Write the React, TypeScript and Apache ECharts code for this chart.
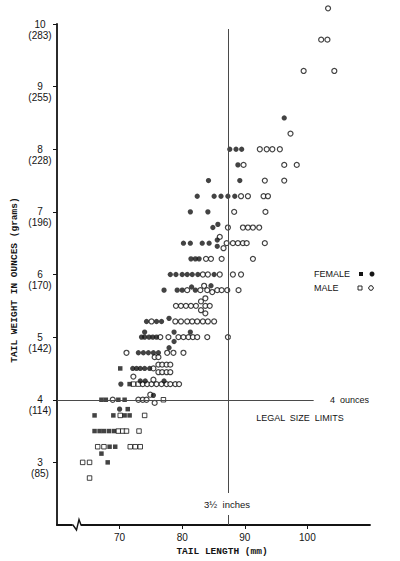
import React, { useEffect, useRef } from "react";
import * as echarts from "echarts";

// Tick values and labels
const xTickValues = [70, 80, 90, 100];
const yTickValues = [3, 4, 5, 6, 7, 8, 9, 10];
const gramLabels: Record<number, string> = { 3: "85", 4: "114", 5: "142", 6: "170", 7: "196", 8: "228", 9: "255", 10: "283" };

// Legal size limits
const legalLengthMm = 87.3; // 3 1/2 inches
const legalWeightOz = 4;

// [tail length (mm), tail weight (oz)]
const femaleSquares: number[][] = [
  [70.1, 4.5], [71.6, 4.25], [67.1, 4], [67.8, 4], [69.8, 4], [70.8, 4], [71.3, 3.85],
  [66, 3.75], [69, 3.75], [70.8, 3.75], [71.6, 3.75],
  [66, 3.5], [66.8, 3.5], [67.5, 3.5], [68.3, 3.5], [69.1, 3.5],
  [68.4, 3.25], [69.3, 3.25], [67.1, 3.14], [68.1, 3],
];

const femaleCircles: number[][] = [
  [70.2, 4.25], [73.3, 4.3], [74.1, 4.3], [77.1, 4.3], [75.4, 4.07], [70, 3.85],
  [72.1, 4.5], [72.7, 4.5], [73.3, 4.5], [74, 4.5], [74.8, 4.5],
  [73, 4.75], [73.8, 4.75], [74.6, 4.75], [75.4, 4.75], [76.2, 4.75], [77.9, 4.83],
  [73.5, 5], [74, 5], [74.7, 5], [75.3, 5], [75.9, 5], [74, 5.08], [78.7, 5.08], [78.7, 4.93], [81.3, 5.08],
  [74.3, 5.25], [75.9, 5.25], [76.7, 5.25], [77.9, 5.3],
  [77.1, 5.75], [79.2, 5.75], [80, 5.75], [81.5, 5.8], [82.1, 5.75], [84.6, 5.82],
  [78.1, 6], [79, 6], [80, 6], [80.8, 6], [81.6, 6], [82.5, 6], [85.1, 6],
  [81.4, 6.25], [82.1, 6.25], [82.7, 6.25],
  [80.2, 6.5], [81.3, 6.5], [83.2, 6.5], [84.3, 6.5], [85.6, 6.55], [85.6, 6.45],
  [84.9, 6.75], [85.7, 6.8],
  [81.3, 7], [84.1, 7],
  [82.4, 7.25], [85.1, 7.25], [86.2, 7.25], [87.3, 7.25], [88.4, 7.25],
  [84.2, 7.5], [89.2, 7.5],
  [88.9, 7.75],
  [87.6, 8], [88.6, 8], [89.5, 8],
  [96.3, 8.5],
];

const maleSquares: number[][] = [
  [77, 4], [70.1, 3.75], [74, 3.75],
  [69.8, 3.5], [70.5, 3.5], [71.1, 3.5], [73.1, 3.5],
  [66.5, 3.25], [67.5, 3.25], [71.7, 3.25], [72.5, 3.25], [73.3, 3.25],
  [64.1, 3], [65.2, 3], [65.2, 2.75], [72.2, 4.25], [73, 4.25],
];

const maleCircles: number[][] = [
  [71.1, 4.75], [75.6, 4.68], [76.2, 4.68], [77.6, 4.75], [78.6, 4.75], [80.2, 4.75],
  [75.4, 4.5], [76.2, 4.56], [76.8, 4.56], [77.5, 4.56], [78.1, 4.56], [76.2, 4.44], [76.8, 4.44], [77.5, 4.44], [78.1, 4.44],
  [73.7, 4.25], [74.4, 4.25], [75.1, 4.25], [75.9, 4.25], [76.7, 4.25], [77.5, 4.25], [78.1, 4.25], [78.9, 4.25], [79.5, 4.25], [75.4, 4.32], [72.2, 4.37],
  [68.9, 4], [73, 4], [73.7, 4], [74.3, 4], [74.9, 4.08], [75.6, 3.95],
  [76.5, 5], [77.8, 5], [79.4, 5], [80.2, 5], [81, 5], [81.7, 5], [82.4, 5], [84, 5], [87.3, 5],
  [75.1, 5.25], [78.9, 5.25], [79.8, 5.25], [80.8, 5.25], [81.6, 5.25], [82.4, 5.25], [83.3, 5.25], [84.1, 5.25], [85.1, 5.25],
  [79, 5.5], [79.8, 5.5], [80.6, 5.5], [81.4, 5.5], [82.2, 5.5], [83, 5.57], [83, 5.43], [83.7, 5.62], [83.7, 5.5], [83.7, 5.38], [84.4, 5.5],
  [80.8, 5.75], [82.9, 5.75], [83.5, 5.82], [84, 5.75], [84.8, 5.72], [85.6, 5.75], [86.3, 5.75], [87.2, 5.75], [89, 5.75],
  [83.3, 6], [84.1, 6], [86, 6], [88.1, 6], [89.4, 6],
  [83.8, 6.25], [84.6, 6.25], [86.3, 6.25], [91.3, 6.25],
  [86, 6.6], [86.6, 6.42], [87.1, 6.5], [88.1, 6.5], [88.9, 6.5], [89.7, 6.5], [90.3, 6.5], [93.2, 6.5],
  [87.3, 6.75], [89.7, 6.75], [90.5, 6.75], [91.3, 6.75], [92.3, 6.75],
  [88.3, 7], [93.3, 7],
  [89.4, 7.25], [90.5, 7.25], [93, 7.25], [93.7, 7.25],
  [93.2, 7.5], [96.3, 7.5],
  [89.8, 7.75], [96.3, 7.75], [98.3, 7.75],
  [92.4, 8], [93.5, 8], [94.4, 8], [95.6, 8],
  [97.3, 8.25],
  [99.4, 9.25], [104.3, 9.25], [102.2, 9.75], [103.2, 9.75], [103.3, 10.25],
];

const INK = "#141414";
const SANS = "Liberation Sans, Arial, sans-serif";
const MONO = "Liberation Mono, Courier New, monospace";

export default function App() {
  const ref = useRef<HTMLDivElement>(null);
  useEffect(() => {
    if (!ref.current) return;
    const chart = echarts.init(ref.current, null, { renderer: "svg" });
    const option: any = {
      animation: false,
      backgroundColor: "#ffffff",
      grid: { left: 57, right: 30, top: 24, bottom: 36 },
      xAxis: {
        type: "value",
        min: 60,
        max: 110,
        interval: 10,
        axisLine: { show: true, lineStyle: { color: INK, width: 1.8 } },
        axisTick: { show: true, length: 4, customValues: xTickValues, lineStyle: { color: INK, width: 1 } },
        axisLabel: {
          customValues: xTickValues,
          margin: 7,
          color: INK,
          fontFamily: SANS,
          fontSize: 10,
          formatter: (v: number) => (xTickValues.includes(v) ? String(v) : ""),
        },
        splitLine: { show: false },
      },
      yAxis: {
        type: "value",
        min: 2,
        max: 10,
        interval: 1,
        axisLine: { show: true, lineStyle: { color: INK, width: 1.8 } },
        axisTick: { show: true, length: 4, customValues: yTickValues, lineStyle: { color: INK, width: 1 } },
        axisLabel: {
          customValues: yTickValues,
          margin: 17,
          align: "center",
          color: INK,
          fontFamily: SANS,
          fontSize: 10,
          lineHeight: 11,
          formatter: (v: number) => (gramLabels[v] ? `\n${v}\n(${gramLabels[v]})` : ""),
        },
        splitLine: { show: false },
      },
      series: [
        {
          name: "Male (square)",
          type: "scatter",
          symbol: "rect",
          symbolSize: 4.5,
          clip: false,
          itemStyle: { color: "#ffffff", borderColor: INK, borderWidth: 1 },
          data: maleSquares,
        },
        {
          name: "Male (circle)",
          type: "scatter",
          symbol: "circle",
          symbolSize: 5,
          clip: false,
          itemStyle: { color: "#ffffff", borderColor: INK, borderWidth: 1.2 },
          data: maleCircles,
          markLine: {
            silent: true,
            symbol: "none",
            label: { show: false },
            lineStyle: { color: "#4a4a4a", width: 1, type: "solid" },
            data: [
              [{ coord: [legalLengthMm, 9.92] }, { coord: [legalLengthMm, 2] }],
              [{ coord: [60, legalWeightOz] }, { coord: [101, legalWeightOz] }],
            ],
          },
        },
        {
          name: "Female (square)",
          type: "scatter",
          symbol: "rect",
          symbolSize: 4.5,
          clip: false,
          itemStyle: { color: INK },
          data: femaleSquares,
        },
        {
          name: "Female (circle)",
          type: "scatter",
          symbol: "circle",
          symbolSize: 5.3,
          clip: false,
          itemStyle: { color: INK },
          data: femaleCircles,
        },
      ],
      graphic: [
        { type: "rect", z: 100, shape: { x: 72, y: 522, width: 9, height: 6 }, style: { fill: "#ffffff" } },
        {
          type: "polyline",
          z: 101,
          shape: { points: [[71, 525], [73, 525], [76.5, 530], [79, 519.5], [81, 525], [83, 525]] },
          style: { stroke: INK, lineWidth: 1.4, fill: "none" },
        },
        {
          type: "text",
          z: 100,
          x: 14,
          y: 280,
          rotation: Math.PI / 2,
          style: { text: "TAIL WEIGHT IN OUNCES (grams)", fill: INK, font: `bold 9.5px ${MONO}`, align: "center", verticalAlign: "middle" },
        },
        {
          type: "text",
          z: 100,
          x: 222,
          y: 551,
          style: { text: "TAIL LENGTH (mm)", fill: INK, font: `bold 9.5px ${MONO}`, align: "center", verticalAlign: "middle" },
        },
        {
          type: "text",
          z: 100,
          x: 227,
          y: 504,
          style: {
            text: "3½  inches",
            fill: INK,
            font: `9.5px ${SANS}`,
            align: "center",
            verticalAlign: "middle",
            backgroundColor: "#ffffff",
            padding: [6, 2],
          },
        },
        {
          type: "text",
          z: 100,
          x: 330,
          y: 400,
          style: { text: "4  ounces", fill: INK, font: `9px ${SANS}`, align: "left", verticalAlign: "middle" },
        },
        {
          type: "text",
          z: 100,
          x: 300,
          y: 418,
          style: { text: "LEGAL  SIZE  LIMITS", fill: INK, font: `9px ${SANS}`, align: "center", verticalAlign: "middle" },
        },
        {
          type: "text",
          z: 100,
          x: 314,
          y: 274,
          style: { text: "FEMALE", fill: INK, font: `9px ${SANS}`, align: "left", verticalAlign: "middle" },
        },
        { type: "rect", z: 100, shape: { x: 359, y: 272, width: 4, height: 4 }, style: { fill: INK } },
        { type: "circle", z: 100, shape: { cx: 372, cy: 274, r: 2.5 }, style: { fill: INK } },
        {
          type: "text",
          z: 100,
          x: 314,
          y: 288,
          style: { text: "MALE", fill: INK, font: `9px ${SANS}`, align: "left", verticalAlign: "middle" },
        },
        { type: "rect", z: 100, shape: { x: 358, y: 286, width: 4, height: 4 }, style: { fill: "#fff", stroke: INK, lineWidth: 0.9 } },
        { type: "circle", z: 100, shape: { cx: 371, cy: 288, r: 2.3 }, style: { fill: "#fff", stroke: INK, lineWidth: 1 } },
      ],
    };
    chart.setOption(option);
    return () => chart.dispose();
  }, []);
  return (
    <div
      ref={ref}
      style={{ position: "fixed", left: 0, top: 0, width: 400, height: 561, background: "#fff" }}
    />
  );
}
